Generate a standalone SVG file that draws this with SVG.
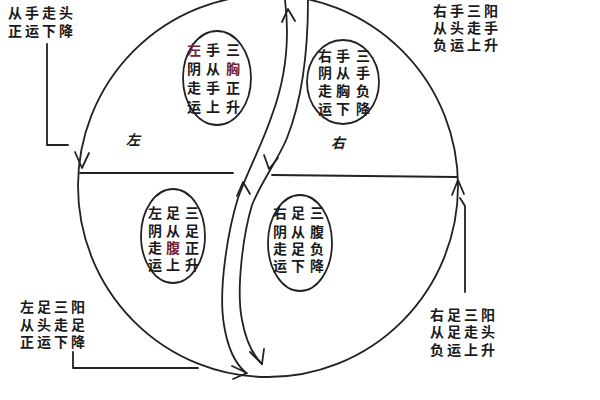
<svg xmlns="http://www.w3.org/2000/svg" width="600" height="400" viewBox="0 0 600 400">
<style>
.ln{fill:none;stroke:#222;stroke-width:1.8;stroke-linecap:round;stroke-linejoin:round}
.el{fill:none;stroke:#222;stroke-width:1.8}
text{font-family:"Noto Sans CJK SC","Noto Sans CJK JP",sans-serif;font-weight:700;fill:#1a1a1a}
.blk{font-size:14px;letter-spacing:3px}
.in{font-size:14px;text-anchor:middle}
.red{fill:#6e2436}
.side{font-size:14px;font-style:italic}
</style>
<rect width="600" height="400" fill="#fff"/>
<g id="connectors">
<ellipse class="ln" cx="268" cy="186" rx="190" ry="191"/>
<path class="ln" d="M80,173 L233,173 M272,175 L457,177"/>
<path class="ln" d="M285,0 C290,40 285,80 272,115 C262,145 248,170 238,198 C228,230 218,290 224,325 C228,350 236,364 245,372"/>
<path class="ln" d="M308,0 C308,50 302,100 287,138 C278,160 262,180 252,205 C243,235 236,290 242,320 C246,342 254,356 262,364"/>
<polyline class="ln" points="75,152 82,168 89,153"/>
<polyline class="ln" points="232,366 247,373 233,379"/>
<polyline class="ln" points="452,195 458,180 464,194"/>
<polyline class="ln" points="282,22 288,9 295,21"/>
<polyline class="ln" points="264,155 269,169 278,158"/>
<polyline class="ln" points="237,196 243,182 250,194"/>
<polyline class="ln" points="250,352 262,364 264,349"/>
<path class="ln" d="M47,44 V145 H68"/>
<path class="ln" d="M73,352 V368 H198"/>
<path class="ln" d="M465,292 V206 L460,198"/>
</g>
<g id="label-top-left">
<text class="blk" x="8" y="18">从手走头</text>
<text class="blk" x="8" y="36">正运下降</text>
</g>
<g id="label-top-right">
<text class="blk" x="433" y="16">右手三阳</text>
<text class="blk" x="433" y="33">从头走手</text>
<text class="blk" x="433" y="50">负运上升</text>
</g>
<g id="label-bottom-left">
<text class="blk" x="20" y="312">左足三阳</text>
<text class="blk" x="20" y="330">从头走足</text>
<text class="blk" x="20" y="347">正运下降</text>
</g>
<g id="label-bottom-right">
<text class="blk" x="430" y="320">右足三阳</text>
<text class="blk" x="430" y="337">从足走头</text>
<text class="blk" x="430" y="355">负运上升</text>
</g>
<g id="side-left"><text class="side" x="126" y="145">左</text></g>
<g id="side-right"><text class="side" x="331" y="148">右</text></g>
<g id="ellipse-upper-left">
<ellipse class="el" cx="217" cy="78" rx="34" ry="47"/>
<text class="in"><tspan x="233" y="55">三</tspan><tspan x="233" y="74" class="red">胸</tspan><tspan x="233" y="93">正</tspan><tspan x="233" y="112">升</tspan></text>
<text class="in"><tspan x="213" y="55">手</tspan><tspan x="213" y="74">从</tspan><tspan x="213" y="93">手</tspan><tspan x="213" y="112">上</tspan></text>
<text class="in"><tspan x="194" y="55" class="red">左</tspan><tspan x="194" y="74">阴</tspan><tspan x="194" y="93">走</tspan><tspan x="194" y="112">运</tspan></text>
</g>
<g id="ellipse-upper-right">
<ellipse class="el" cx="343" cy="82" rx="36" ry="42"/>
<text class="in"><tspan x="363" y="61">三</tspan><tspan x="363" y="78">手</tspan><tspan x="363" y="96">负</tspan><tspan x="363" y="114">降</tspan></text>
<text class="in"><tspan x="343" y="61">手</tspan><tspan x="343" y="78">从</tspan><tspan x="343" y="96">胸</tspan><tspan x="343" y="114">下</tspan></text>
<text class="in"><tspan x="325" y="61">右</tspan><tspan x="325" y="78">阴</tspan><tspan x="325" y="96">走</tspan><tspan x="325" y="114">运</tspan></text>
</g>
<g id="ellipse-lower-left">
<ellipse class="el" cx="173" cy="236" rx="32" ry="47"/>
<text class="in"><tspan x="192" y="218">三</tspan><tspan x="192" y="236">足</tspan><tspan x="192" y="253">正</tspan><tspan x="192" y="270">升</tspan></text>
<text class="in"><tspan x="173" y="218">足</tspan><tspan x="173" y="236">从</tspan><tspan x="173" y="253" class="red">腹</tspan><tspan x="173" y="270">上</tspan></text>
<text class="in"><tspan x="155" y="218">左</tspan><tspan x="155" y="236">阴</tspan><tspan x="155" y="253">走</tspan><tspan x="155" y="270">运</tspan></text>
</g>
<g id="ellipse-lower-right">
<ellipse class="el" cx="300" cy="243" rx="32" ry="48"/>
<text class="in"><tspan x="317" y="218">三</tspan><tspan x="317" y="237">腹</tspan><tspan x="317" y="254">负</tspan><tspan x="317" y="271">降</tspan></text>
<text class="in"><tspan x="298" y="218">足</tspan><tspan x="298" y="237">从</tspan><tspan x="298" y="254">足</tspan><tspan x="298" y="271">下</tspan></text>
<text class="in"><tspan x="280" y="218">右</tspan><tspan x="280" y="237">阴</tspan><tspan x="280" y="254">走</tspan><tspan x="280" y="271">运</tspan></text>
</g>
</svg>
